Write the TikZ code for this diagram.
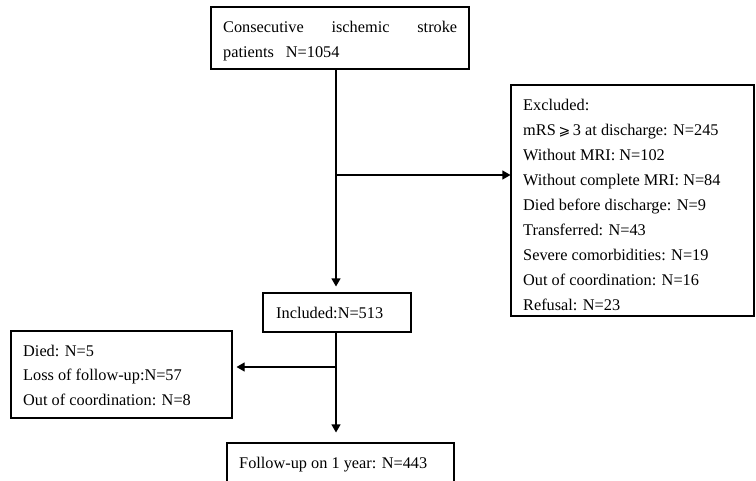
\documentclass[tikz,border=0pt]{standalone}
\usepackage{fontspec}
\setmainfont{Liberation Serif}
\newfontfamily\symfnt{DejaVu Sans}
\usetikzlibrary{arrows.meta}
\begin{document}
\begin{tikzpicture}[x=1pt,y=-1pt,
  box/.style={draw=black, line width=1.1pt, inner sep=0pt, rectangle},
  txt/.style={inner sep=0pt, anchor=north west, align=left, font=\fontsize{16.3}{25}\selectfont},
  txtb/.style={txt, font=\fontsize{16.3}{24.5}\selectfont},
  arr/.style={draw=black, line width=1.1pt, -{Triangle[length=8pt,width=9pt]}}]
\useasboundingbox[fill=white] (0,0) rectangle (756,480);
% boxes
\node[box, minimum width=258pt, minimum height=62pt] (top) at (340,38) {};
\node[box, minimum width=243pt, minimum height=231pt] (exc) at (632.5,200.5) {};
\node[box, minimum width=148pt, minimum height=39pt] (inc) at (337,312.5) {};
\node[box, minimum width=221pt, minimum height=87pt] (lft) at (121.5,374.5) {};
\node[box, minimum width=227pt, minimum height=42pt] (bot) at (340.5,464) {};
% texts
\node[txt, text width=234pt] (toptxt) at (223,20.3) {\rule{0pt}{12pt}Consecutive\hfill ischemic\hfill stroke\\ patients\hspace{12pt}N=1054};
\node[txt] (exctxt) at (523,98.5) {\rule{0pt}{12pt}Excluded:\\
mRS\,{\symfnt\fontsize{14}{25}\selectfont ⩾}\,3 at discharge: N=245\\
Without MRI: N=102\\
Without complete MRI: N=84\\
Died before discharge: N=9\\
Transferred: N=43\\
Severe comorbidities: N=19\\
Out of coordination: N=16\\
Refusal: N=23};
\node[txt] (inctxt) at (276,306) {\rule{0pt}{12pt}Included:N=513};
\node[txtb] (lfttxt) at (23,344) {\rule{0pt}{12pt}Died: N=5\\
Loss of follow-up:N=57\\
Out of coordination: N=8};
\node[txt] (bottxt) at (239,456.3) {\rule{0pt}{12pt}Follow-up on 1 year: N=443};
% connectors
\coordinate (j1) at (336,175);
\coordinate (j2) at (336,367);
\draw[arr, shorten >=6pt] (top.south -| j1) -- (inc.north -| j1);
\draw[arr] (j1) -- (exc.west |- j1);
\draw[arr, shorten >=10pt] (inc.south -| j2) -- (bot.north -| j2);
\draw[arr, shorten >=4pt] (j2) -- (lft.east |- j2);
\end{tikzpicture}
\end{document}
